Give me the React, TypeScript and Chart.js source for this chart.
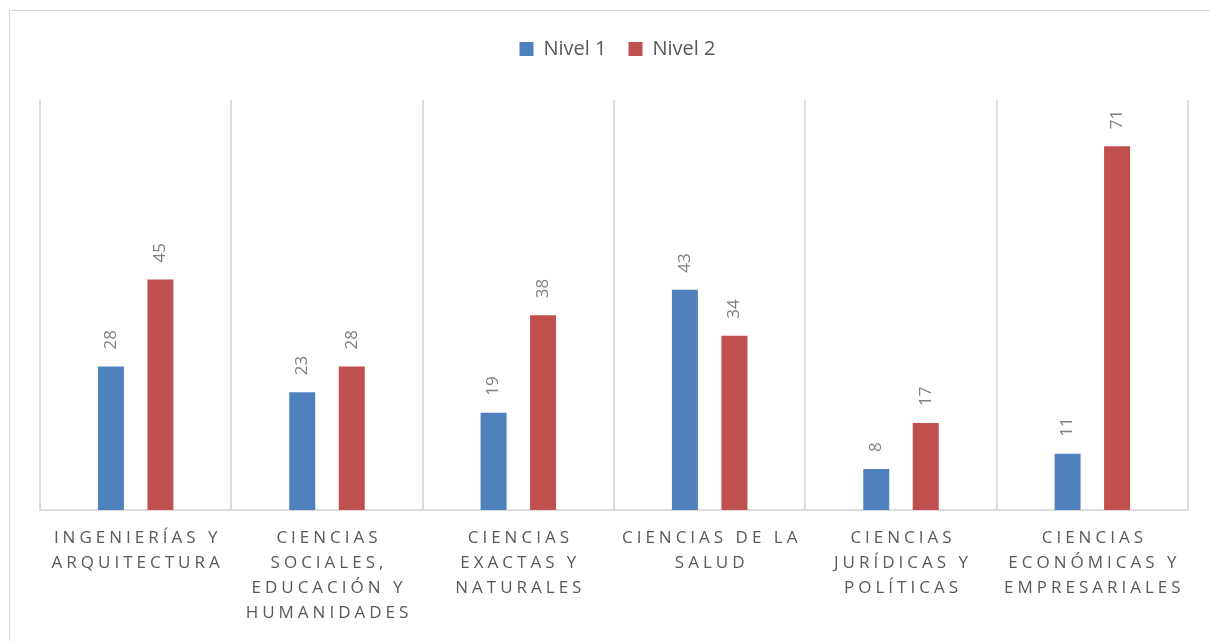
import React, { useEffect, useRef } from "react";
import { Chart, registerables } from "chart.js";

Chart.register(...registerables);

const categories: string[][] = [
  ["INGENIERÍAS Y", "ARQUITECTURA"],
  ["CIENCIAS", "SOCIALES,", "EDUCACIÓN Y", "HUMANIDADES"],
  ["CIENCIAS", "EXACTAS Y", "NATURALES"],
  ["CIENCIAS DE LA", "SALUD"],
  ["CIENCIAS", "JURÍDICAS Y", "POLÍTICAS"],
  ["CIENCIAS", "ECONÓMICAS Y", "EMPRESARIALES"],
];
const seriesNames = ["Nivel 1", "Nivel 2"];
const nivel1 = [28, 23, 19, 43, 8, 11];
const nivel2 = [45, 28, 38, 34, 17, 71];
const yMax = 80;

const FONT = "'Open Sans', 'DejaVu Sans', sans-serif";

const valueLabels = {
  id: "valueLabels",
  afterDatasetsDraw(chart: any) {
    const ctx = chart.ctx;
    ctx.save();
    ctx.font = `17px ${FONT}`;
    ctx.fillStyle = "#7f7f7f";
    ctx.textAlign = "left";
    ctx.textBaseline = "middle";
    chart.data.datasets.forEach((ds: any, di: number) => {
      const meta = chart.getDatasetMeta(di);
      meta.data.forEach((el: any, i: number) => {
        ctx.save();
        ctx.translate(el.x, el.y - 17);
        ctx.rotate(-Math.PI / 2);
        ctx.fillText(String(ds.data[i]), 0, 0);
        ctx.restore();
      });
    });
    ctx.restore();
  },
};

const categoryLabels = {
  id: "categoryLabels",
  afterDraw(chart: any) {
    const ctx = chart.ctx;
    const xs = chart.scales.x;
    const bottom = chart.chartArea.bottom;
    ctx.save();
    ctx.font = `17px ${FONT}`;
    ctx.fillStyle = "#595959";
    ctx.textAlign = "center";
    ctx.textBaseline = "middle";
    const spacing = 4;
    (ctx as any).letterSpacing = `${spacing}px`;
    (chart.data.labels as string[][]).forEach((lines, i) => {
      const x = xs.getPixelForValue(i) + spacing / 2;
      lines.forEach((line, li) => {
        ctx.fillText(line, x, bottom + 28.5 + 25 * li);
      });
    });
    ctx.restore();
  },
};

export default function App() {
  const ref = useRef<HTMLCanvasElement | null>(null);

  useEffect(() => {
    if (!ref.current) return;
    const chart = new Chart(ref.current, {
      type: "bar",
      data: {
        labels: categories,
        datasets: [
          {
            label: seriesNames[0],
            data: nivel1,
            backgroundColor: "#4f81bd",
            borderWidth: 0,
            categoryPercentage: 0.5175,
            barPercentage: 0.525,
          },
          {
            label: seriesNames[1],
            data: nivel2,
            backgroundColor: "#c0504d",
            borderWidth: 0,
            categoryPercentage: 0.5175,
            barPercentage: 0.525,
          },
        ],
      },
      options: {
        responsive: false,
        animation: false,
        devicePixelRatio: 1,
        layout: { padding: { left: 30, right: 15, top: 6, bottom: 131 } },
        plugins: {
          legend: {
            position: "top",
            align: "center",
            labels: {
              boxWidth: 14,
              boxHeight: 14,
              padding: 22,
              color: "#595959",
              font: { family: FONT, size: 20 },
            },
          },
          title: {
            display: true,
            text: "",
            weight: 500,
            padding: { top: 0, bottom: 0 },
            font: { size: 31, lineHeight: 1 },
          } as any,
          tooltip: { enabled: false },
        },
        scales: {
          x: {
            offset: true,
            grid: {
              display: true,
              offset: true,
              color: "#dcdcdc",
              lineWidth: 2,
              drawTicks: false,
              tickLength: 0,
            },
            border: { display: true, color: "#dcdcdc", width: 2 },
            ticks: { display: false },
          },
          y: {
            position: "right",
            min: 0,
            max: yMax,
            grid: { display: false },
            border: { display: false },
            ticks: { display: false },
            afterFit: (scale: any) => {
              scale.width = 7;
            },
          },
        },
      },
      plugins: [valueLabels, categoryLabels],
    });
    return () => chart.destroy();
  }, []);

  return (
    <div
      style={{
        position: "absolute",
        left: 0,
        top: 0,
        width: 1210,
        height: 641,
        overflow: "hidden",
        background: "#ffffff",
      }}
    >
      <div
        style={{
          position: "absolute",
          left: 9,
          top: 10,
          width: 1200,
          height: 630,
          border: "1px solid #d9d9d9",
          background: "#ffffff",
        }}
      >
        <canvas ref={ref} width={1200} height={630} style={{ display: "block" }} />
      </div>
    </div>
  );
}
